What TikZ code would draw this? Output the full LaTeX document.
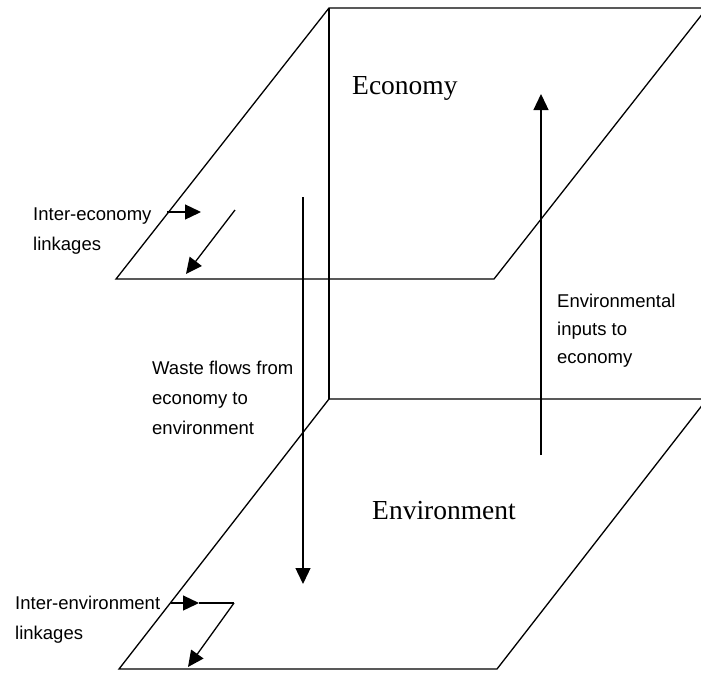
\documentclass[tikz,border=0pt]{standalone}
\usepackage{fontspec}
\setmainfont{Liberation Serif}
\setsansfont{Liberation Sans}
\usetikzlibrary{arrows.meta}
\begin{document}
\begin{tikzpicture}[x=1pt,y=-1pt,
  plane/.style={line width=1.3pt, line join=miter},
  flow/.style={line width=1.3pt, -{Triangle[length=16pt,width=15pt]}},
  smalllabel/.style={font=\sffamily\fontsize{18.5}{30}\selectfont, align=left,
    anchor=north west, inner sep=0pt},
  planelabel/.style={font=\fontsize{27.5}{32}\selectfont, anchor=base west, inner sep=0pt}]
\useasboundingbox (0,0) rectangle (701,673);
\clip (0,0) rectangle (701,673);

% corners of the upper plane (economy)
\coordinate (ecoTL) at (329,8);
\coordinate (ecoTR) at (707,8);
\coordinate (ecoBR) at (494,279);
\coordinate (ecoBL) at (116,279);
% corners of the lower plane (environment)
\coordinate (envTL) at (329,399);
\coordinate (envTR) at (707,399);
\coordinate (envBR) at (497,669);
\coordinate (envBL) at (119,669);

% the two planes and the back edge joining them
\draw[plane] (ecoBL) -- (ecoTL) -- (ecoTR) -- (ecoBR) -- cycle;
\draw[plane] (envBL) -- (envTL) -- (envTR) -- (envBR) -- cycle;
\draw[plane] (ecoTL) -- (envTL);

% flows between the planes
\coordinate (wasteStart) at (303,197);
\coordinate (wasteEnd) at (303,584);
\draw[flow] (wasteStart) -- (wasteEnd);
\coordinate (inputStart) at (541,455);
\coordinate (inputEnd) at (541,94);
\draw[flow] (inputStart) -- (inputEnd);

% linkages inside the economy plane
\coordinate (ecoLinkA) at (167,212);
\coordinate (ecoLinkB) at (201,212);
\coordinate (ecoLinkC) at (235,210);
\coordinate (ecoLinkD) at (186,274);
\draw[flow] (ecoLinkA) -- (ecoLinkB);
\draw[flow] (ecoLinkC) -- (ecoLinkD);

% linkages inside the environment plane
\coordinate (envLinkA) at (171,603);
\coordinate (envLinkB) at (199,603);
\coordinate (envLinkC) at (234,603);
\coordinate (envLinkD) at (188,667);
\draw[flow] (envLinkA) -- (envLinkB);
\draw[plane] (envLinkB) -- (envLinkC);
\draw[flow] (envLinkC) -- (envLinkD);

% labels
\node[planelabel] (ecoName) at (352,94) {Economy};
\node[planelabel] (envName) at (372,519) {Environment};
\node[smalllabel] (ecoLinkText) at (33,208) {Inter-economy\\linkages};
\node[smalllabel] (wasteText) at (152,361) {Waste flows from\\economy to\\environment};
\node[smalllabel, font=\sffamily\fontsize{18.5}{28}\selectfont] (inputText) at (557,294) {Environmental\\inputs to\\economy};
\node[smalllabel] (envLinkText) at (15,596) {Inter-environment\\linkages};
\end{tikzpicture}
\end{document}
